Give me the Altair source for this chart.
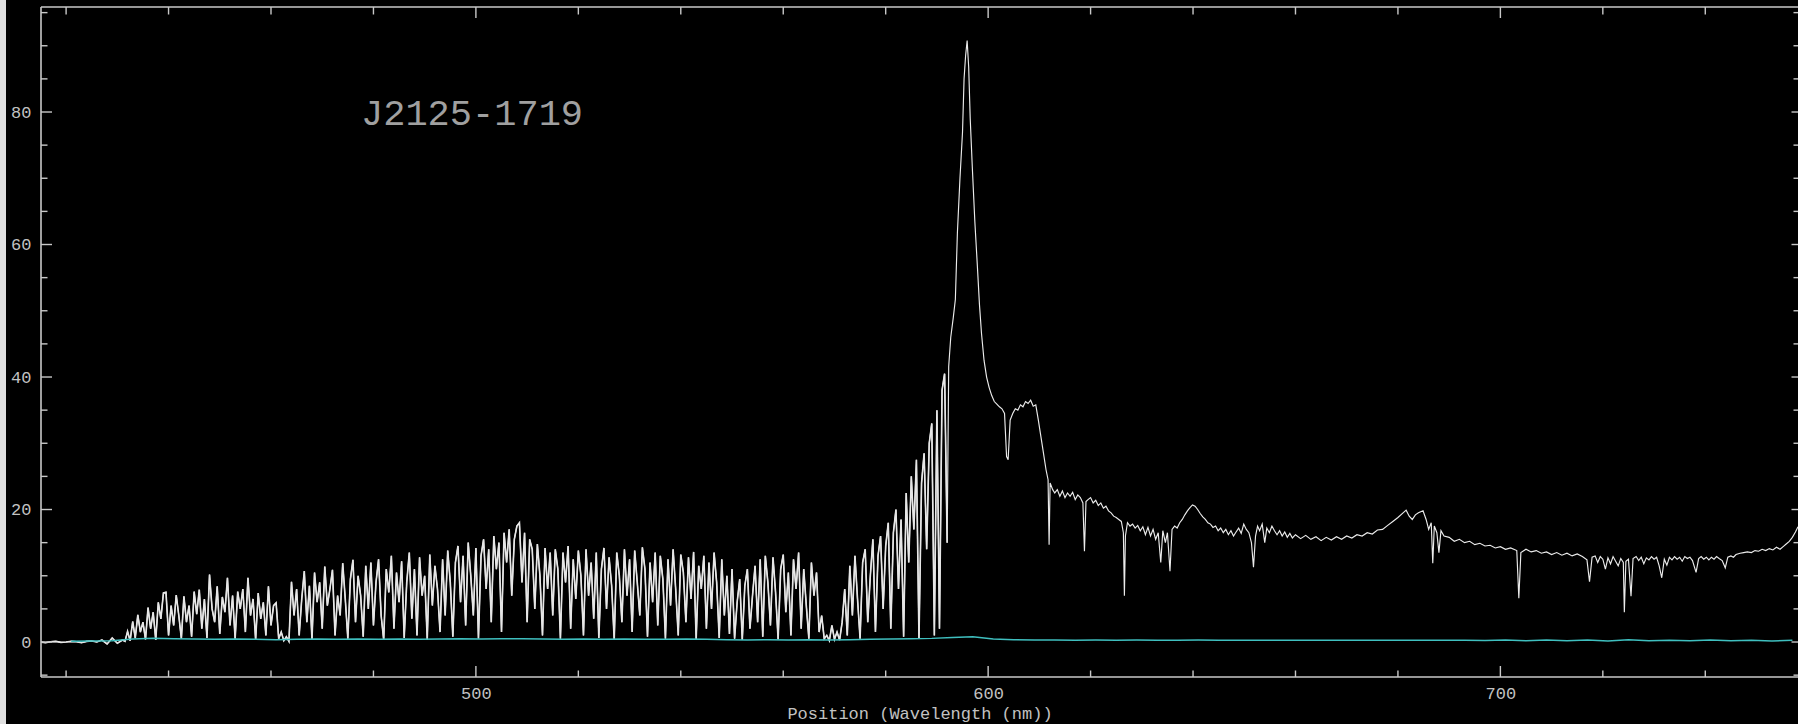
import altair as alt
import pandas as pd

# ---------------- text ----------------
OBJECT_NAME = "J2125-1719"
X_TITLE = "Position (Wavelength (nm))"

# ---------------- axis values ----------------
x_label_values = [500, 600, 700]
x_major_ticks = [500, 600, 700]
x_minor_ticks = [420, 440, 460, 480, 520, 540, 560, 580, 620, 640, 660, 680, 720, 740]
y_label_values = [0, 20, 40, 60, 80]
y_major_ticks = [0, 20, 40, 60, 80]
y_minor_ticks = [-5, 5, 10, 15, 25, 30, 35, 45, 50, 55, 65, 70, 75, 85, 90, 95]

# ---------------- spectrum ----------------
# blue part below the forest, 1 nm sampling starting at 415 nm
pre_start, pre_step = 415.0, 1.0
pre_flux = [0.0, -0.1, 0.05, 0.1, -0.05, 0.0, 0.1, 0.05, -0.1, 0.1,
            0.15, 0.0, 0.3, -0.3, 0.6, -0.2]

# Lyman-alpha forest, blocks of 10 samples (0.5 nm) starting at 431 nm + 5k
forest_start, forest_step = 431.0, 0.5
forest_blocks = [
    [0.3, 0.1, 1.6, 0.2, 3.1, 0.6, 4.1, 1.5, 3.0, 0.4],        # 431
    [5.2, 2.0, 4.5, 0.3, 6.0, 3.5, 7.4, 7.5, 1.0, 5.5],        # 436
    [2.5, 7.1, 4.0, 0.5, 6.9, 3.0, 5.5, 0.8, 7.6, 4.2],        # 441
    [7.9, 2.0, 6.5, 0.6, 10.2, 5.0, 3.0, 8.4, 1.2, 6.8],       # 446
    [4.5, 9.7, 2.5, 7.0, 0.5, 7.6, 5.0, 8.0, 1.5, 9.7],        # 451
    [4.0, 6.5, 0.3, 7.4, 3.5, 6.0, 1.0, 8.4, 2.5, 5.5],        # 456
    [5.9, 0.5, 1.5, 0.2, 0.8, 0.1, 9.1, 4.0, 8.0, 1.0],        # 461
    [6.5, 10.7, 3.0, 8.5, 0.4, 10.5, 6.0, 9.0, 2.0, 11.4],     # 466
    [5.5, 8.0, 10.9, 1.0, 7.0, 4.0, 11.9, 6.5, 0.5, 9.5],      # 471
    [12.4, 3.0, 10.0, 7.0, 0.8, 11.5, 5.0, 12.0, 2.5, 9.0],    # 476
    [12.5, 4.0, 0.3, 11.0, 7.5, 13.0, 2.0, 10.5, 6.0, 12.2],   # 481
    [0.6, 9.0, 13.5, 3.5, 11.0, 1.0, 12.8, 7.0, 10.0, 0.4],    # 486
    [13.2, 5.5, 11.5, 8.0, 1.5, 12.5, 4.0, 13.8, 9.0, 0.8],    # 491
    [12.0, 14.5, 6.0, 13.0, 2.5, 15.0, 10.0, 4.0, 14.2, 0.5],  # 496
    [13.0, 15.5, 8.0, 14.0, 3.0, 16.0, 11.0, 15.0, 1.5, 16.5], # 501
    [12.0, 17.0, 7.0, 15.5, 17.5, 18.0, 9.0, 16.5, 3.0, 15.5], # 506
    [14.0, 5.0, 14.8, 10.0, 1.0, 14.2, 8.0, 13.5, 4.0, 14.0],  # 511
    [11.0, 0.5, 13.5, 9.0, 14.5, 2.0, 12.5, 6.5, 13.8, 10.0],  # 516
    [1.0, 14.0, 7.0, 12.0, 3.5, 13.5, 0.6, 11.0, 14.2, 5.0],   # 521
    [12.8, 8.5, 0.3, 13.5, 10.0, 3.0, 14.0, 7.0, 12.5, 1.5],   # 526
    [13.8, 9.0, 4.0, 14.3, 11.0, 0.8, 12.0, 6.0, 13.5, 2.5],   # 531
    [13.0, 9.5, 0.5, 12.5, 5.5, 14.0, 8.0, 1.0, 13.2, 10.5],   # 536
    [3.0, 12.8, 6.5, 13.6, 0.4, 11.5, 8.0, 13.0, 2.0, 12.0],   # 541
    [5.0, 13.5, 9.0, 0.6, 12.5, 4.0, 10.0, 1.2, 11.0, 0.5],    # 546
    [6.0, 9.5, 0.3, 8.5, 11.0, 2.0, 7.0, 11.5, 3.0, 12.5],     # 551
    [0.8, 13.0, 9.0, 2.5, 12.8, 7.5, 0.4, 11.0, 13.2, 4.5],    # 556
    [10.5, 1.0, 12.5, 8.0, 13.5, 2.0, 11.0, 5.5, 0.5, 12.0],   # 561
    [7.0, 10.5, 1.5, 4.0, 0.5, 1.0, 0.2, 2.5, 0.4, 1.5],       # 566
    [0.3, 3.0, 8.0, 1.0, 11.5, 4.0, 13.0, 6.5, 0.5, 12.0],     # 571
    [14.0, 3.0, 10.0, 15.5, 1.5, 13.0, 16.0, 5.0, 14.5, 18.0], # 576
    [2.0, 16.5, 20.0, 8.0, 18.5, 0.8, 22.5, 12.0, 25.0, 17.0], # 581
    [27.5, 0.5, 24.0, 28.5, 14.0, 30.0, 33.0, 1.0, 35.0, 2.0], # 586
    [38.0, 40.5, 15.0],                                        # 591
]

# red side of Lyman-alpha (wavelength nm, flux)
red_side = [
    (592.3, 41.6), (592.7, 46.0), (593.2, 49.0), (593.6, 51.7), (594.0, 61.8),
    (594.5, 70.0), (595.0, 77.0), (595.3, 85.0), (595.6, 88.5), (595.9, 90.8),
    (596.2, 86.8), (596.5, 79.0), (596.9, 71.8), (597.4, 63.5), (597.9, 56.7),
    (598.3, 51.0), (598.7, 46.6), (599.2, 42.5), (599.7, 40.0), (600.2, 38.4),
    (600.7, 37.2), (601.2, 36.3), (601.7, 35.9), (602.2, 35.5), (602.7, 35.2),
    (603.2, 34.5), (603.6, 28.0), (603.9, 27.5), (604.3, 33.5), (604.8, 34.5),
    (605.3, 35.2), (605.8, 35.0), (606.3, 35.8), (606.8, 35.5), (607.3, 36.3),
    (607.8, 36.0), (608.3, 36.5), (608.8, 35.6), (609.3, 35.8), (609.8, 33.5),
    (610.3, 31.0), (610.8, 28.5), (611.3, 26.0), (611.7, 24.5), (611.9, 14.7),
    (612.1, 24.0), (612.6, 23.0), (613.0, 22.5), (613.5, 23.0), (614.0, 22.0),
    (614.5, 22.8), (615.0, 21.8), (615.5, 22.5), (616.0, 22.0), (616.5, 22.6),
    (617.0, 21.5), (617.5, 22.2), (618.0, 21.8), (618.5, 21.0), (618.8, 13.7),
    (619.1, 21.2), (619.5, 21.5), (620.0, 21.8), (620.5, 21.0), (621.0, 21.4),
    (621.5, 20.6), (622.0, 21.0), (622.5, 20.2), (623.0, 20.5), (623.5, 19.8),
    (624.0, 19.5), (624.5, 19.0), (625.0, 18.8), (625.5, 18.5), (626.0, 18.2),
    (626.4, 16.5), (626.6, 7.0), (626.8, 16.0), (627.2, 18.0), (627.7, 17.5),
    (628.2, 17.8), (628.7, 17.2), (629.2, 17.6), (629.7, 16.8), (630.2, 17.4),
    (630.7, 16.2), (631.2, 17.3), (631.7, 16.0), (632.2, 17.0), (632.7, 15.5),
    (633.2, 16.5), (633.7, 12.0), (634.1, 16.8), (634.6, 15.0), (635.0, 16.5),
    (635.5, 10.7), (635.9, 17.0), (636.4, 17.5), (636.9, 17.2), (637.4, 18.0),
    (637.9, 18.5), (638.4, 19.2), (638.9, 19.8), (639.4, 20.3), (639.9, 20.7),
    (640.4, 20.5), (640.9, 20.0), (641.4, 19.4), (641.9, 18.9), (642.4, 18.5),
    (642.9, 18.0), (643.4, 17.8), (643.9, 17.3), (644.4, 17.5), (644.9, 16.8),
    (645.4, 17.2), (645.9, 16.5), (646.4, 17.0), (646.9, 16.2), (647.4, 16.8),
    (647.9, 16.0), (648.4, 16.6), (648.9, 17.2), (649.4, 16.4), (649.9, 17.8),
    (650.4, 17.0), (650.9, 16.5), (651.4, 15.0), (651.8, 11.3), (652.2, 16.0),
    (652.6, 17.5), (653.0, 16.8), (653.5, 17.8), (654.0, 15.0), (654.4, 17.2),
    (654.9, 16.5), (655.4, 17.5), (655.9, 16.8), (656.4, 16.2), (656.9, 16.8),
    (657.4, 16.0), (657.9, 16.6), (658.4, 15.8), (658.9, 16.4), (659.4, 15.7),
    (660.0, 16.2), (661.0, 15.6), (662.0, 16.1), (663.0, 15.5), (664.0, 15.9),
    (665.0, 15.3), (666.0, 15.8), (667.0, 15.4), (668.0, 15.9), (669.0, 15.5),
    (670.0, 16.0), (671.0, 15.7), (672.0, 16.2), (673.0, 16.0), (674.0, 16.5),
    (675.0, 16.3), (676.0, 16.9), (677.0, 17.0), (678.0, 17.6), (679.0, 18.2),
    (680.0, 18.8), (681.0, 19.5), (681.6, 19.9), (682.2, 19.0), (682.8, 18.5),
    (683.4, 19.2), (684.0, 19.5), (684.9, 19.8), (685.5, 18.5), (686.0, 17.0),
    (686.5, 18.0), (686.8, 11.9), (687.1, 17.5), (687.6, 16.5), (688.0, 13.5),
    (688.4, 16.8), (689.0, 16.0), (690.0, 15.8), (691.0, 15.2), (692.0, 15.5),
    (693.0, 15.0), (694.0, 15.2), (695.0, 14.7), (696.0, 14.9), (697.0, 14.5),
    (698.0, 14.6), (699.0, 14.2), (700.0, 14.4), (701.0, 14.0), (702.0, 14.2),
    (703.2, 13.8), (703.6, 6.6), (704.0, 13.5), (705.0, 14.0), (706.0, 13.6),
    (707.0, 13.8), (708.0, 13.4), (709.0, 13.6), (710.0, 13.2), (711.0, 13.5),
    (712.0, 13.1), (713.0, 13.4), (714.0, 13.0), (715.0, 13.3), (716.0, 12.9),
    (716.9, 12.4), (717.4, 9.1), (717.9, 12.8), (718.5, 13.0), (719.0, 12.0),
    (719.5, 12.9), (720.0, 12.5), (720.5, 11.0), (721.0, 12.7), (721.5, 11.8),
    (722.0, 12.9), (722.5, 12.2), (723.0, 11.5), (723.5, 12.6), (724.0, 12.0),
    (724.2, 4.5), (724.5, 12.2), (725.0, 12.5), (725.5, 6.9), (725.9, 12.6),
    (726.5, 12.9), (727.0, 12.3), (727.5, 12.8), (728.0, 11.8), (728.5, 12.7),
    (729.0, 12.4), (729.5, 12.9), (730.0, 12.5), (730.5, 12.8), (731.0, 11.5),
    (731.5, 9.7), (732.0, 12.5), (732.5, 11.6), (733.0, 12.8), (733.5, 12.4),
    (734.0, 12.9), (734.5, 12.5), (735.0, 12.8), (735.5, 12.2), (736.0, 12.9),
    (736.5, 12.6), (737.0, 12.8), (737.5, 12.3), (738.2, 10.5), (738.7, 12.6),
    (739.2, 12.9), (739.7, 12.5), (740.2, 12.8), (740.7, 12.4), (741.2, 12.8),
    (741.7, 12.5), (742.2, 12.9), (742.7, 12.6), (743.3, 12.3), (743.9, 11.2),
    (744.4, 12.8), (745.0, 13.0), (745.5, 12.8), (746.0, 13.2), (746.8, 13.4),
    (747.5, 13.5), (748.2, 13.6), (749.0, 13.5), (749.7, 13.8), (750.4, 13.7),
    (751.1, 14.0), (751.8, 13.8), (752.5, 14.1), (753.2, 13.9), (753.9, 14.3),
    (754.6, 14.0), (755.2, 14.4), (755.8, 14.8), (756.4, 15.2), (757.0, 15.8),
    (757.6, 16.6), (758.1, 17.4),
]

# error spectrum (cyan), 4 nm sampling starting at 421 nm
err_start, err_step = 421.0, 4.0
err_flux = [
    0.10, 0.15, 0.20, 0.45, 0.55, 0.50, 0.45, 0.40, 0.45, 0.40,
    0.35, 0.40, 0.45, 0.40, 0.45, 0.40, 0.45, 0.40, 0.45, 0.50,
    0.45, 0.50, 0.50, 0.45, 0.40, 0.45, 0.40, 0.45, 0.40, 0.40,
    0.45, 0.40, 0.35, 0.30, 0.35, 0.30, 0.35, 0.30, 0.35, 0.40,
    0.45, 0.50, 0.55, 0.70, 0.80, 0.45, 0.35, 0.30, 0.30, 0.28,
    0.30, 0.28, 0.30, 0.27, 0.28, 0.30, 0.27, 0.28, 0.26, 0.28,
    0.27, 0.28, 0.26, 0.27, 0.28, 0.26, 0.27, 0.25, 0.28, 0.22,
    0.30, 0.18, 0.32, 0.20, 0.30, 0.15, 0.33, 0.20, 0.28, 0.18,
    0.30, 0.20, 0.28, 0.15, 0.25,
]

# ---------------- build tables ----------------
blue_wl, blue_fl = [], []
for i, v in enumerate(pre_flux):
    blue_wl.append(pre_start + pre_step * i)
    blue_fl.append(v)
for k, block in enumerate(forest_blocks):
    for j, v in enumerate(block):
        blue_wl.append(forest_start + 5.0 * k + forest_step * j)
        blue_fl.append(v)
red_wl = [w for w, _ in red_side]
red_fl = [v for _, v in red_side]

spec_df = pd.DataFrame({"wl": blue_wl + red_wl, "flux": blue_fl + red_fl})
forest_df = pd.DataFrame({"wl": blue_wl, "flux": blue_fl})
err_df = pd.DataFrame({"wl": [err_start + err_step * i for i in range(len(err_flux))],
                       "flux": err_flux})

# ---------------- style ----------------
W, H = 1757, 670
FRAME = "#c8c8c8"
LABEL = "#c2c2c2"
FONT = "Liberation Mono"

xscale = alt.Scale(domain=[415.1, 758.1], nice=False, zero=False)
yscale = alt.Scale(domain=[-5.28, 95.85], nice=False, zero=False)

xaxis = alt.Axis(values=x_label_values, title=X_TITLE, domain=False, ticks=False,
                 tickSize=0, grid=False, labelPadding=8, titlePadding=4,
                 labelFlush=False, format="d")
yaxis = alt.Axis(values=y_label_values, title=None, domain=False, ticks=False,
                 tickSize=0, grid=False, labelPadding=10, format="d")


def X():
    return alt.X("wl:Q", scale=xscale, axis=xaxis)


def Y():
    return alt.Y("flux:Q", scale=yscale, axis=yaxis)


one = pd.DataFrame({"a": [0]})

strip = alt.Chart(one).mark_rect(color="#e0e0e0").encode(
    x=alt.value(-41), x2=alt.value(-35), y=alt.value(-7), y2=alt.value(H + 47))

spec = alt.Chart(spec_df).mark_line(color="#ebebeb", strokeWidth=1.15, clip=True).encode(
    x=X(), y=Y())
forest = alt.Chart(forest_df).mark_line(color="#e6e6e6", strokeWidth=1.6, clip=True).encode(
    x=X(), y=Y())
err = alt.Chart(err_df).mark_line(color="#3fbfbf", strokeWidth=1.5, clip=True).encode(
    x=X(), y=Y())

frame_top = alt.Chart(one).mark_rule(color=FRAME, strokeWidth=1.6).encode(
    x=alt.value(0), x2=alt.value(W), y=alt.value(0))
frame_bottom = alt.Chart(one).mark_rule(color=FRAME, strokeWidth=1.6).encode(
    x=alt.value(0), x2=alt.value(W), y=alt.value(H))
frame_left = alt.Chart(one).mark_rule(color=FRAME, strokeWidth=1.6).encode(
    x=alt.value(0), y=alt.value(0), y2=alt.value(H))

xmaj = pd.DataFrame({"wl": x_major_ticks})
xmin = pd.DataFrame({"wl": x_minor_ticks})
ymaj = pd.DataFrame({"flux": y_major_ticks})
ymin = pd.DataFrame({"flux": y_minor_ticks})

tick_style = dict(color=FRAME, strokeWidth=1.4)
ticks = [
    alt.Chart(xmaj).mark_rule(**tick_style).encode(x=X(), y=alt.value(H), y2=alt.value(H - 11)),
    alt.Chart(xmin).mark_rule(**tick_style).encode(x=X(), y=alt.value(H), y2=alt.value(H - 6.5)),
    alt.Chart(xmaj).mark_rule(**tick_style).encode(x=X(), y=alt.value(0), y2=alt.value(11)),
    alt.Chart(xmin).mark_rule(**tick_style).encode(x=X(), y=alt.value(0), y2=alt.value(7.5)),
    alt.Chart(ymaj).mark_rule(**tick_style).encode(y=Y(), x=alt.value(0), x2=alt.value(11)),
    alt.Chart(ymin).mark_rule(**tick_style).encode(y=Y(), x=alt.value(0), x2=alt.value(6.5)),
    alt.Chart(ymaj).mark_rule(**tick_style).encode(y=Y(), x=alt.value(W), x2=alt.value(W - 6.5)),
    alt.Chart(ymin).mark_rule(**tick_style).encode(y=Y(), x=alt.value(W), x2=alt.value(W - 4.5)),
]

label = alt.Chart(pd.DataFrame({"t": [OBJECT_NAME]})).mark_text(
    font=FONT, fontSize=37, color="#a0a0a0", align="left", baseline="alphabetic"
).encode(x=alt.value(320), y=alt.value(118), text="t:N")

chart = alt.layer(
    strip, spec, forest, err, frame_top, frame_bottom, frame_left, *ticks, label
).properties(
    width=W, height=H,
    padding={"left": 41, "top": 7, "right": 0, "bottom": 47},
    autosize=alt.AutoSizeParams(type="none"),
    background="black",
).configure_view(
    stroke="transparent", fill="black"
).configure_axis(
    labelFont=FONT, labelFontSize=17, labelColor=LABEL,
    titleFont=FONT, titleFontSize=17, titleColor=LABEL, titleFontWeight="normal",
)

chart.save("out.html", embed_options={"renderer": "svg", "actions": False})
